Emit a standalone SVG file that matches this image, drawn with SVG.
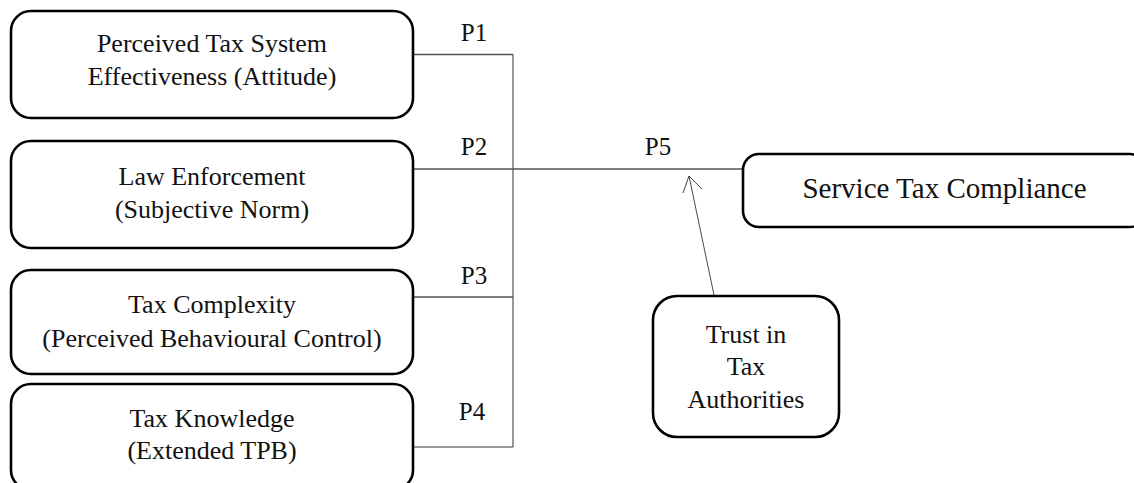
<svg xmlns="http://www.w3.org/2000/svg" width="1134" height="483" viewBox="0 0 1134 483">
<style>
.box{fill:#fff;stroke:#000;stroke-width:2.6}
.t{font-family:"Liberation Serif","Times New Roman",serif;font-size:26px;fill:#111;text-anchor:middle}
.big{font-size:29px}
.lbl{font-family:"Liberation Serif","Times New Roman",serif;font-size:25px;fill:#111;text-anchor:middle}
.c{fill:none;stroke:#555;stroke-width:1.4}
.cv{fill:none;stroke:#333;stroke-width:1}
.arr{fill:none;stroke:#333;stroke-width:0.9}
</style>
<rect width="1134" height="483" fill="#fff"/>
<g id="connectors">
<polyline class="c" points="413,54.5 513,54.5"/>
<line class="cv" x1="513" y1="54.5" x2="513" y2="447"/>
<line class="c" x1="413" y1="169" x2="743" y2="169"/>
<line class="c" x1="413" y1="297" x2="513" y2="297"/>
<line class="cv" x1="413" y1="447" x2="513" y2="447"/>
<line class="arr" x1="714" y1="295" x2="689" y2="176"/>
<polyline class="arr" points="683,193 689,176 702,189"/>
<text class="lbl" x="474" y="41">P1</text>
<text class="lbl" x="474" y="155">P2</text>
<text class="lbl" x="474" y="284">P3</text>
<text class="lbl" x="472" y="420">P4</text>
<text class="lbl" x="658" y="155">P5</text>
</g>
<g id="node-attitude">
<rect class="box" x="11" y="11" width="402" height="107" rx="20"/>
<text class="t" x="212" y="52">Perceived Tax System</text>
<text class="t" x="212" y="85">Effectiveness (Attitude)</text>
</g>
<g id="node-law">
<rect class="box" x="11" y="141" width="402" height="107" rx="20"/>
<text class="t" x="212" y="185">Law Enforcement</text>
<text class="t" x="212" y="218">(Subjective Norm)</text>
</g>
<g id="node-complexity">
<rect class="box" x="11" y="270" width="402" height="104" rx="20"/>
<text class="t" x="212" y="313">Tax Complexity</text>
<text class="t" x="212" y="347">(Perceived Behavioural Control)</text>
</g>
<g id="node-knowledge">
<rect class="box" x="11" y="384" width="402" height="106" rx="20"/>
<text class="t" x="212" y="427">Tax Knowledge</text>
<text class="t" x="212" y="459">(Extended TPB)</text>
</g>
<g id="node-compliance">
<rect class="box" x="743" y="154" width="403" height="73" rx="16"/>
<text class="t big" x="944.5" y="198">Service Tax Compliance</text>
</g>
<g id="node-trust">
<rect class="box" x="653" y="296" width="186" height="141" rx="24"/>
<text class="t" x="746" y="343">Trust in</text>
<text class="t" x="746" y="375">Tax</text>
<text class="t" x="746" y="408">Authorities</text>
</g>
</svg>
